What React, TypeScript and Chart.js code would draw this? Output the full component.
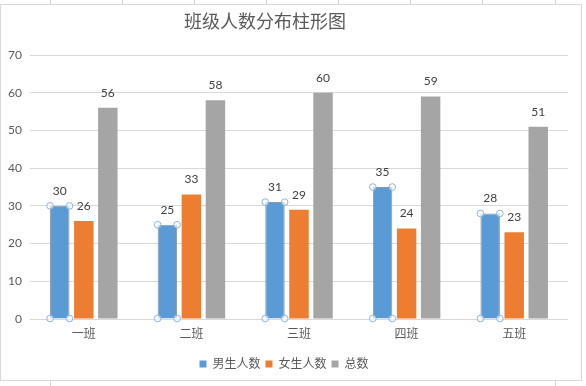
import React, { useEffect, useRef } from "react";
import { Chart, registerables } from "chart.js";

Chart.register(...registerables);

const categories = ["一班", "二班", "三班", "四班", "五班"];
const boys = [30, 25, 31, 35, 28];
const girls = [26, 33, 29, 24, 23];
const totals = [56, 58, 60, 59, 51];
const seriesNames = ["男生人数", "女生人数", "总数"];
const seriesColors = ["#5B9BD5", "#ED7D31", "#A5A5A5"];
const titleText = "班级人数分布柱形图";
const yMin = 0;
const yMax = 70;
const yStep = 10;

const FONT = "Lato, 'Noto Sans CJK SC', sans-serif";

const decorPlugin = {
  id: "decor",
  beforeDraw(chart: any) {
    const ctx = chart.ctx;
    ctx.save();
    ctx.fillStyle = "#ffffff";
    ctx.fillRect(0, 0, chart.width, chart.height);
    // spreadsheet cell lines behind the chart
    ctx.strokeStyle = "#d4d4d4";
    ctx.lineWidth = 1;
    [50, 122, 194, 266, 338, 410, 482, 555].forEach((x) => {
      ctx.beginPath();
      ctx.moveTo(x + 0.5, 0);
      ctx.lineTo(x + 0.5, 5);
      ctx.stroke();
    });
    [50, 555].forEach((x) => {
      ctx.beginPath();
      ctx.moveTo(x + 0.5, 381);
      ctx.lineTo(x + 0.5, 386);
      ctx.stroke();
    });
    // chart frame
    ctx.strokeStyle = "#d9d9d9";
    ctx.strokeRect(0.5, 4.5, 581, 376);
    // title
    ctx.fillStyle = "#595959";
    ctx.font = `18px 'Noto Sans CJK SC', sans-serif`;
    ctx.textAlign = "center";
    ctx.textBaseline = "middle";
    ctx.fillText(titleText, 265, 21);
    ctx.restore();
  },
  afterDatasetsDraw(chart: any) {
    const ctx = chart.ctx;
    ctx.save();
    ctx.font = `12px ${FONT}`;
    ctx.fillStyle = "#404040";
    ctx.textAlign = "center";
    ctx.textBaseline = "middle";
    chart.data.datasets.forEach((ds: any, di: number) => {
      const meta = chart.getDatasetMeta(di);
      meta.data.forEach((bar: any, i: number) => {
        ctx.fillText(String(ds.data[i]), bar.x, bar.y - 15);
      });
    });
    // selection handles on the first series
    const meta0 = chart.getDatasetMeta(0);
    ctx.strokeStyle = "#8FB4DE";
    ctx.lineWidth = 1;
    meta0.data.forEach((bar: any) => {
      const half = bar.width / 2;
      const pts = [
        [bar.x - half, bar.y],
        [bar.x + half, bar.y],
        [bar.x - half, bar.base],
        [bar.x + half, bar.base],
      ];
      pts.forEach(([x, y]) => {
        ctx.beginPath();
        ctx.arc(x, y, 3.3, 0, Math.PI * 2);
        ctx.fillStyle = "rgba(255,255,255,0.6)";
        ctx.fill();
        ctx.stroke();
      });
    });
    ctx.restore();
  },
};

export default function App() {
  const ref = useRef<HTMLCanvasElement | null>(null);
  useEffect(() => {
    if (!ref.current) return;
    const chart = new Chart(ref.current, {
      type: "bar",
      data: {
        labels: categories,
        datasets: [
          {
            label: seriesNames[0],
            data: boys,
            backgroundColor: seriesColors[0],
            borderColor: "#8497B0",
            borderWidth: 1,
            categoryPercentage: 0.67,
            barPercentage: 0.81,
          },
          {
            label: seriesNames[1],
            data: girls,
            backgroundColor: seriesColors[1],
            categoryPercentage: 0.67,
            barPercentage: 0.81,
          },
          {
            label: seriesNames[2],
            data: totals,
            backgroundColor: seriesColors[2],
            categoryPercentage: 0.67,
            barPercentage: 0.81,
          },
        ],
      },
      options: {
        responsive: false,
        animation: false,
        devicePixelRatio: 1,
        layout: { padding: { top: 55, left: 0, right: 18, bottom: 6 } },
        plugins: {
          title: { display: false },
          tooltip: { enabled: false },
          legend: {
            display: true,
            position: "bottom",
            labels: {
              boxWidth: 7,
              boxHeight: 7,
              padding: 5,
              color: "#595959",
              font: { size: 12, family: FONT },
              generateLabels: (c: any) =>
                c.data.datasets.map((ds: any, i: number) => ({
                  text: ds.label,
                  fillStyle: ds.backgroundColor,
                  strokeStyle: ds.backgroundColor,
                  lineWidth: 0,
                  hidden: false,
                  datasetIndex: i,
                  fontColor: "#595959",
                })),
            },
          },
        },
        scales: {
          x: {
            grid: { display: false, drawTicks: false },
            border: { display: false },
            ticks: {
              color: "#595959",
              padding: 8,
              font: { size: 12, family: FONT },
            },
            afterFit: (s: any) => {
              s.height = 34;
            },
          },
          y: {
            min: yMin,
            max: yMax,
            grid: { color: "#d9d9d9", drawTicks: false },
            border: { display: false },
            ticks: {
              stepSize: yStep,
              color: "#595959",
              padding: 8,
              font: { size: 12, family: FONT },
            },
            afterFit: (s: any) => {
              s.width = 30;
            },
          },
        },
      },
      plugins: [decorPlugin],
    });
    return () => chart.destroy();
  }, []);
  return (
    <div
      style={{
        position: "fixed",
        left: 0,
        top: 0,
        width: 586,
        height: 386,
        background: "#fff",
      }}
    >
      <canvas ref={ref} width={586} height={386} style={{ display: "block" }} />
    </div>
  );
}
